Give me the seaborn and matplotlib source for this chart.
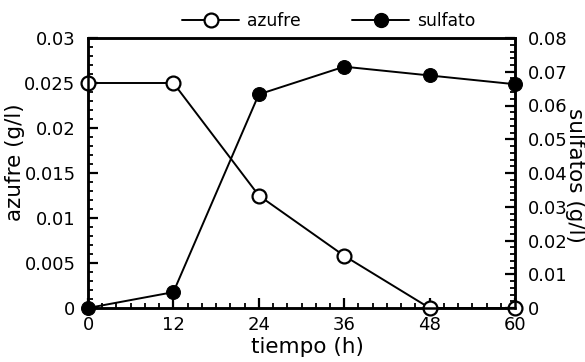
import matplotlib
matplotlib.use("Agg")
import matplotlib.pyplot as plt
from matplotlib.ticker import MultipleLocator
from matplotlib.lines import Line2D
import seaborn as sns
import pandas as pd

# Time points (h)
tiempo = [0, 12, 24, 36, 48, 60]
# Elemental sulfur concentration (g/l)
azufre = [0.025, 0.025, 0.0125, 0.0058, 0.0, 0.0]
# Sulfate concentration (g/l)
sulfato = [0.0, 0.0047, 0.0633, 0.0715, 0.0689, 0.0663]

x_ticks = [0, 12, 24, 36, 48, 60]
y_left_ticks = [0, 0.005, 0.01, 0.015, 0.02, 0.025, 0.03]
y_left_labels = ["0", "0.005", "0.01", "0.015", "0.02", "0.025", "0.03"]
y_right_ticks = [0, 0.01, 0.02, 0.03, 0.04, 0.05, 0.06, 0.07, 0.08]
y_right_labels = ["0", "0.01", "0.02", "0.03", "0.04", "0.05", "0.06", "0.07", "0.08"]

sns.set_style("ticks")
plt.rcParams["font.family"] = ["DejaVu Sans"]
plt.rcParams["text.color"] = "black"
plt.rcParams["axes.labelcolor"] = "black"
plt.rcParams["xtick.color"] = "black"
plt.rcParams["ytick.color"] = "black"

df_s = pd.DataFrame({"tiempo": tiempo, "azufre": azufre})
df_so4 = pd.DataFrame({"tiempo": tiempo, "sulfato": sulfato})

W, H = 585, 362
fig = plt.figure(figsize=(W / 100, H / 100), dpi=100)
ax = fig.add_axes([88 / W, 1 - 308 / H, (515 - 88) / W, (308 - 38) / H])
ax2 = ax.twinx()

lw = 1.4
ms = 10
sns.lineplot(data=df_s, x="tiempo", y="azufre", ax=ax, color="black",
             linewidth=lw, marker="o", markersize=ms, markerfacecolor="white",
             markeredgecolor="black", markeredgewidth=1.6, clip_on=False,
             zorder=3, legend=False)
sns.lineplot(data=df_so4, x="tiempo", y="sulfato", ax=ax2, color="black",
             linewidth=lw, marker="o", markersize=ms, markerfacecolor="black",
             markeredgecolor="black", clip_on=False, zorder=3, legend=False)

ax.set_xlim(0, 60)
ax.set_ylim(0, 0.03)
ax2.set_ylim(0, 0.08)

ax.set_xticks(x_ticks)
ax.set_xticklabels([str(t) for t in x_ticks])
ax.xaxis.set_minor_locator(MultipleLocator(2))
ax.set_yticks(y_left_ticks)
ax.set_yticklabels(y_left_labels)
ax.yaxis.set_minor_locator(MultipleLocator(0.001))
ax2.set_yticks(y_right_ticks)
ax2.set_yticklabels(y_right_labels)
ax2.yaxis.set_minor_locator(MultipleLocator(0.002))

for a in (ax, ax2):
    for s in a.spines.values():
        s.set_linewidth(1.8)
        s.set_color("black")
    a.tick_params(which="major", direction="in", length=7, width=1.6,
                  colors="black", labelsize=13)
    a.tick_params(which="minor", direction="in", length=3.6, width=1.3,
                  colors="black")

ax.tick_params(axis="x", pad=6)
ax.tick_params(axis="y", pad=9)
ax2.tick_params(axis="y", pad=9)

ax.set_xlabel("")
ax.set_ylabel("")
ax2.set_ylabel("")

# Axis titles placed in figure pixels
fig.text(307 / W, 1 - 347 / H, "tiempo (h)", fontsize=15.5, color="black",
         ha="center", va="center")
fig.text(15 / W, 1 - 162 / H, "azufre (g/l)", fontsize=15.5, color="black",
         rotation=90, ha="center", va="center")
fig.text(575 / W, 1 - 175 / H, "sulfatos (g/l)", fontsize=15.5, color="black",
         rotation=-90, ha="center", va="center")

handles = [
    Line2D([], [], color="black", linewidth=lw, marker="o", markersize=ms,
           markerfacecolor="white", markeredgewidth=1.6),
    Line2D([], [], color="black", linewidth=lw, marker="o", markersize=ms,
           markerfacecolor="black"),
]
leg = fig.legend(handles, ["azufre", "sulfato"], loc="center left",
                 bbox_to_anchor=(182 / W, 1 - 21 / H), ncol=2, frameon=False,
                 borderpad=0, borderaxespad=0,
                 handlelength=3.35, columnspacing=3.0, handletextpad=0.47,
                 fontsize=12.3)
for t in leg.get_texts():
    t.set_color("black")

fig.savefig("out.png", dpi=100)
